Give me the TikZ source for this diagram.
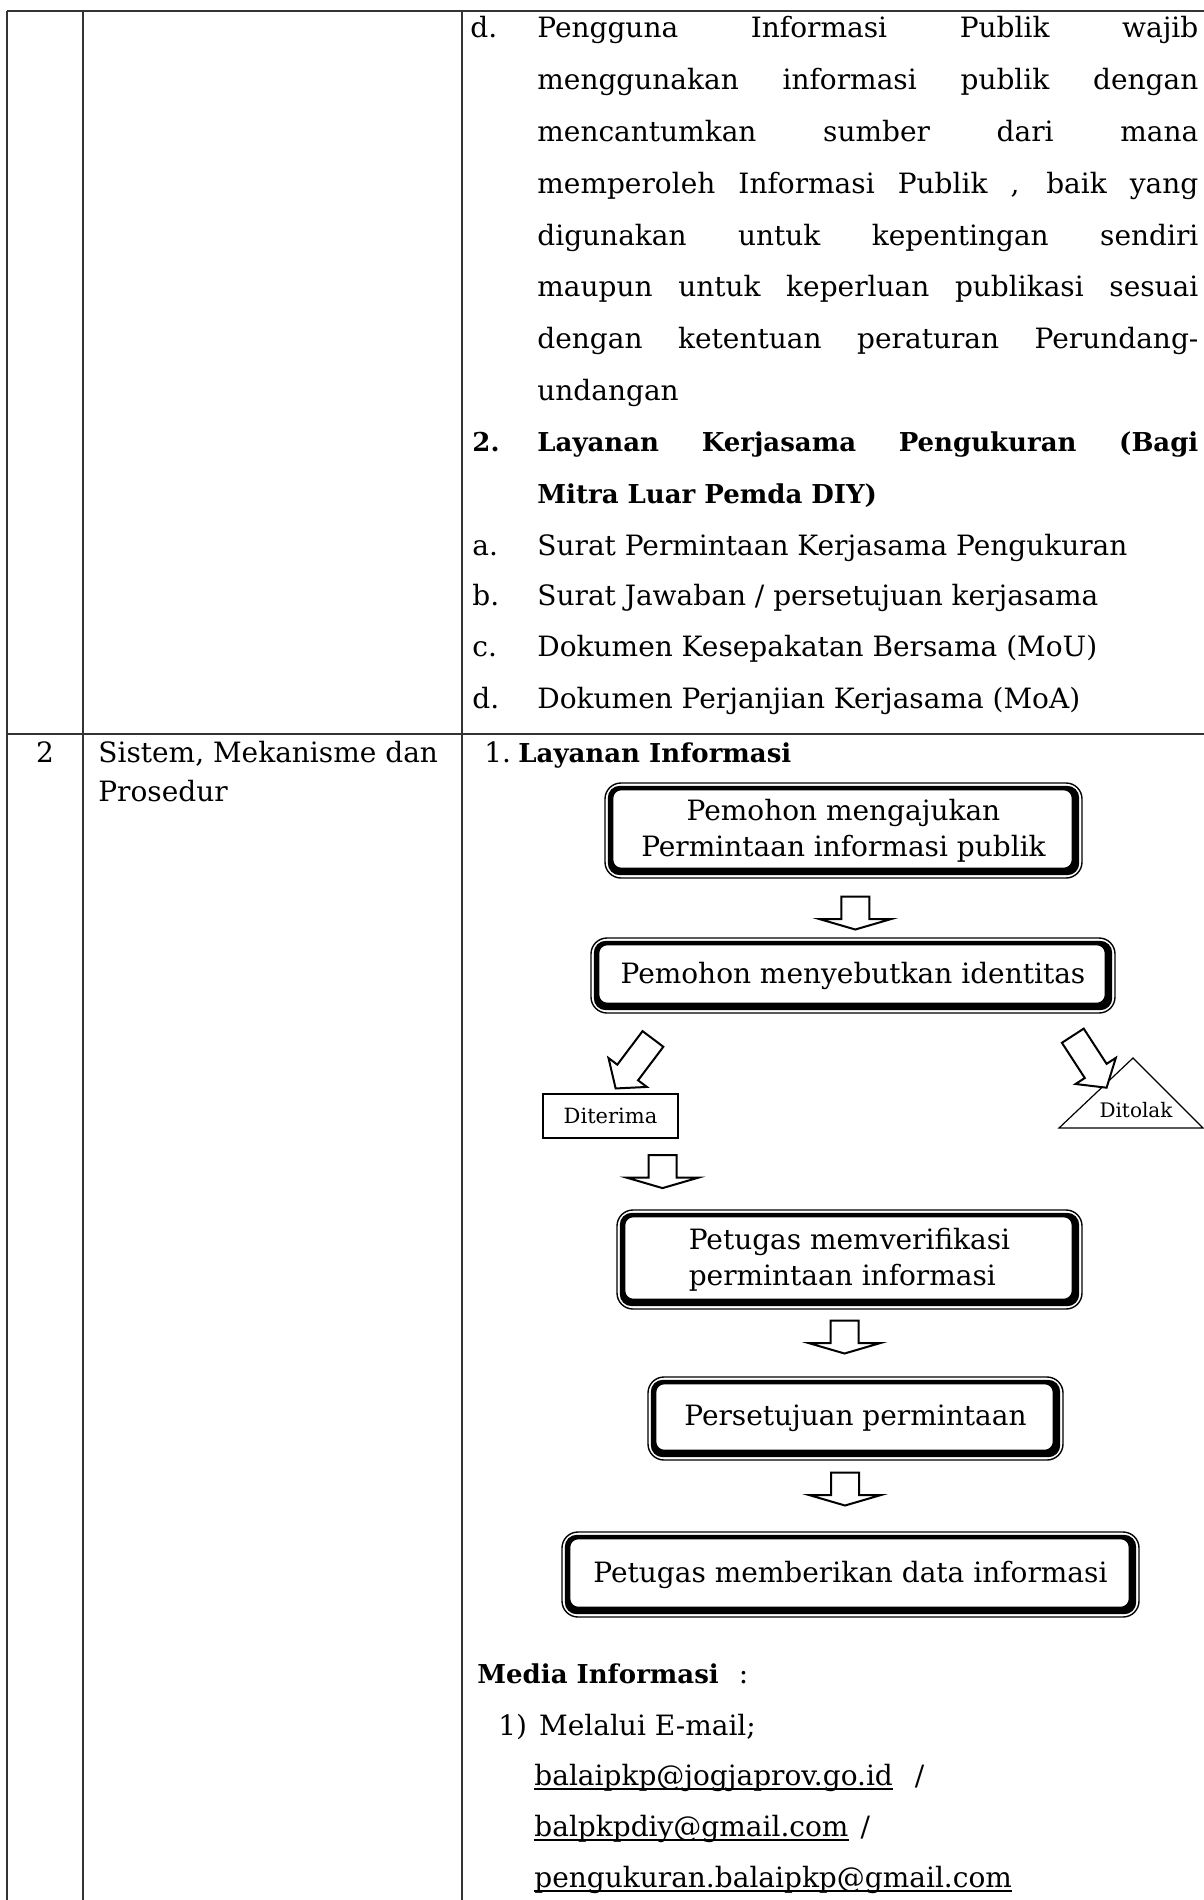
\documentclass[tikz,border=0pt]{standalone}
\usepackage{fontspec}
\setmainfont{DejaVu Serif}
\usetikzlibrary{calc}

% justified line of fixed width (text column of the right cell)
\newcommand\jline[1]{\makebox[330.5pt][s]{#1}}
% underline at a fixed depth, cutting through descenders
\newcommand\mailul[1]{\setbox0\hbox{#1}\rlap{\rule[-2.4pt]{\wd0}{0.7pt}}\box0}
% heavy inner band of a step box, heavier at the bottom and right
\newcommand\dblframe[1]{%
  \fill[even odd rule]
    [rounded corners=6pt] ([shift={(3.5,3.5)}]#1.north west) rectangle ([shift={(-3.5,-3.5)}]#1.south east)
    [rounded corners=4pt] ([shift={(9,8)}]#1.north west) rectangle ([shift={(-11,-11)}]#1.south east);}

\tikzset{
  body/.style={anchor=base west, inner sep=0pt, font=\fontsize{14}{18}\selectfont},
  bodyb/.style={anchor=base west, inner sep=0pt, font=\fontsize{13}{17}\selectfont\bfseries},
  grid line/.style={line width=0.9pt, draw=black!80},
  frame outer/.style={draw, line width=0.7pt, rounded corners=8pt, inner sep=0pt,
    align=center, font=\fontsize{14}{18}\selectfont},
  blk/.style={draw, line width=1pt, fill=white, line join=miter},
  small box/.style={draw, line width=0.6pt, inner sep=0pt, font=\fontsize{10.5}{12}\selectfont},
  downblk/.pic={\draw[blk] (-14,-16.5) -- (14,-16.5) -- (14,6) -- (36,6) -- (0,16.5)
    -- (-36,6) -- (-14,6) -- cycle;},
  slantblk/.pic={\draw[blk] (-13,-31) -- (13,-31) -- (13,11) -- (24,11) -- (0,31)
    -- (-24,11) -- (-13,11) -- cycle;}
}

\begin{document}
\begin{tikzpicture}[x=0.5pt,y=-0.5pt]
\fill[white] (0,0) rectangle (1204,1900);
\useasboundingbox (0,0) rectangle (1204,1900);

% table rules
\draw[grid line] (7,11) -- (1204,11);
\draw[grid line] (7,734) -- (1204,734);
\draw[grid line] (7,11) -- (7,1900);
\draw[grid line] (83,11) -- (83,1900);
\draw[grid line] (462,11) -- (462,1900);

% ---- row 1, right cell
\node[body] (p1n) at (470,38)  {d.};
\node[body] (p1)  at (537,38)  {\jline{Pengguna Informasi Publik wajib}};
\node[body] (p2)  at (537,90)  {\jline{menggunakan informasi publik dengan}};
\node[body] (p3)  at (537,141) {\jline{mencantumkan sumber dari mana}};
\node[body] (p4)  at (537,193) {\jline{memperoleh Informasi Publik , baik yang}};
\node[body] (p5)  at (537,245) {\jline{digunakan untuk kepentingan sendiri}};
\node[body] (p6)  at (537,296) {\jline{maupun untuk keperluan publikasi sesuai}};
\node[body] (p7)  at (537,348) {\jline{dengan ketentuan peraturan Perundang-}};
\node[body] (p8)  at (537,400) {undangan};

\node[bodyb] (k1n) at (472,451) {2.};
\node[bodyb] (k1)  at (537,451) {\jline{Layanan Kerjasama Pengukuran (Bagi}};
\node[bodyb] (k2)  at (537,503) {Mitra Luar Pemda DIY)};

\node[body] (ka) at (472,555) {a.};
\node[body] (kat) at (537,555) {Surat Permintaan Kerjasama Pengukuran};
\node[body] (kb) at (472,605) {b.};
\node[body] (kbt) at (537,605) {Surat Jawaban / persetujuan kerjasama};
\node[body] (kc) at (472,656) {c.};
\node[body] (kct) at (537,656) {Dokumen Kesepakatan Bersama (MoU)};
\node[body] (kd) at (472,708) {d.};
\node[body] (kdt) at (537,708) {Dokumen Perjanjian Kerjasama (MoA)};

% ---- row 2, left cells
\node[body, anchor=base] (no2) at (45,762) {2};
\node[body] (s1) at (98,762) {Sistem, Mekanisme dan};
\node[body] (s2) at (98,801) {Prosedur};

% ---- row 2, right cell
\node[body] (li1) at (484,762) {1.};
\node[bodyb] (li) at (518,762) {Layanan Informasi};

% flowchart boxes
\node[frame outer, minimum width=238.5pt, minimum height=47.5pt] (b1) at (843.5,830.5)
  {Pemohon mengajukan\\Permintaan informasi publik};
\dblframe{b1}

\node[frame outer, minimum width=262pt, minimum height=37.5pt] (b2) at (853,975.5)
  {Pemohon menyebutkan identitas};
\dblframe{b2}

\node[small box, minimum width=67.5pt, minimum height=22pt] (dtr) at (610.5,1116) {Diterima};

\coordinate (t1) at (1133,1058);
\coordinate (t2) at (1059,1128);
\coordinate (t3) at (1203,1128);
\draw[line width=0.6pt] (t1) -- (t2) -- (t3) -- cycle;
\node[inner sep=0pt, font=\fontsize{10}{12}\selectfont] (dtl) at (1136,1110) {Ditolak};

\node[frame outer, minimum width=232.5pt, minimum height=49.5pt, align=left] (b3) at (849.5,1259.5)
  {Petugas memverifikasi\\permintaan informasi};
\dblframe{b3}

\node[frame outer, minimum width=207.5pt, minimum height=41.5pt] (b4) at (855.5,1418.5)
  {Persetujuan permintaan};
\dblframe{b4}

\node[frame outer, minimum width=288.5pt, minimum height=42.5pt] (b5) at (850.5,1574.5)
  {\raisebox{-3pt}{Petugas memberikan data informasi}};
\dblframe{b5}

% block arrows between the steps
\coordinate (a1) at ($(b1.south)!0.5!(b2.north)+(7,5)$);
\coordinate (aL) at ($(b2.south west)+(44,50)$);
\coordinate (aR) at ($(b2.south east)+(-26,48)$);
\coordinate (a2) at ($(dtr.south)+(52,33)$);
\coordinate (a3) at ($(b3.south)!0.5!(b4.north)+(-8,-6)$);
\coordinate (a4) at ($(b4.south)!0.5!(b5.north)+(-8,-7)$);
\pic at (a1) {downblk};
\pic[rotate=-37] at (aL) {slantblk};
\pic[rotate=33] at (aR) {slantblk};
\pic at (a2) {downblk};
\pic at (a3) {downblk};
\pic at (a4) {downblk};

% media list
\node[body] (mi) at (477,1683) {{\fontsize{13}{17}\selectfont\bfseries Media Informasi}\hspace{10pt}:};
\node[body] (m1) at (498,1735) {1)\hspace{6pt}Melalui E-mail;};
\node[body] (e1) at (534,1785) {\mailul{balaipkp@jogjaprov.go.id}\hspace{11pt}/};
\node[body] (e2) at (534,1836) {\mailul{balpkpdiy@gmail.com}\hspace{6pt}/};
\node[body] (e3) at (534,1887) {\mailul{pengukuran.balaipkp@gmail.com}};
\end{tikzpicture}
\end{document}
